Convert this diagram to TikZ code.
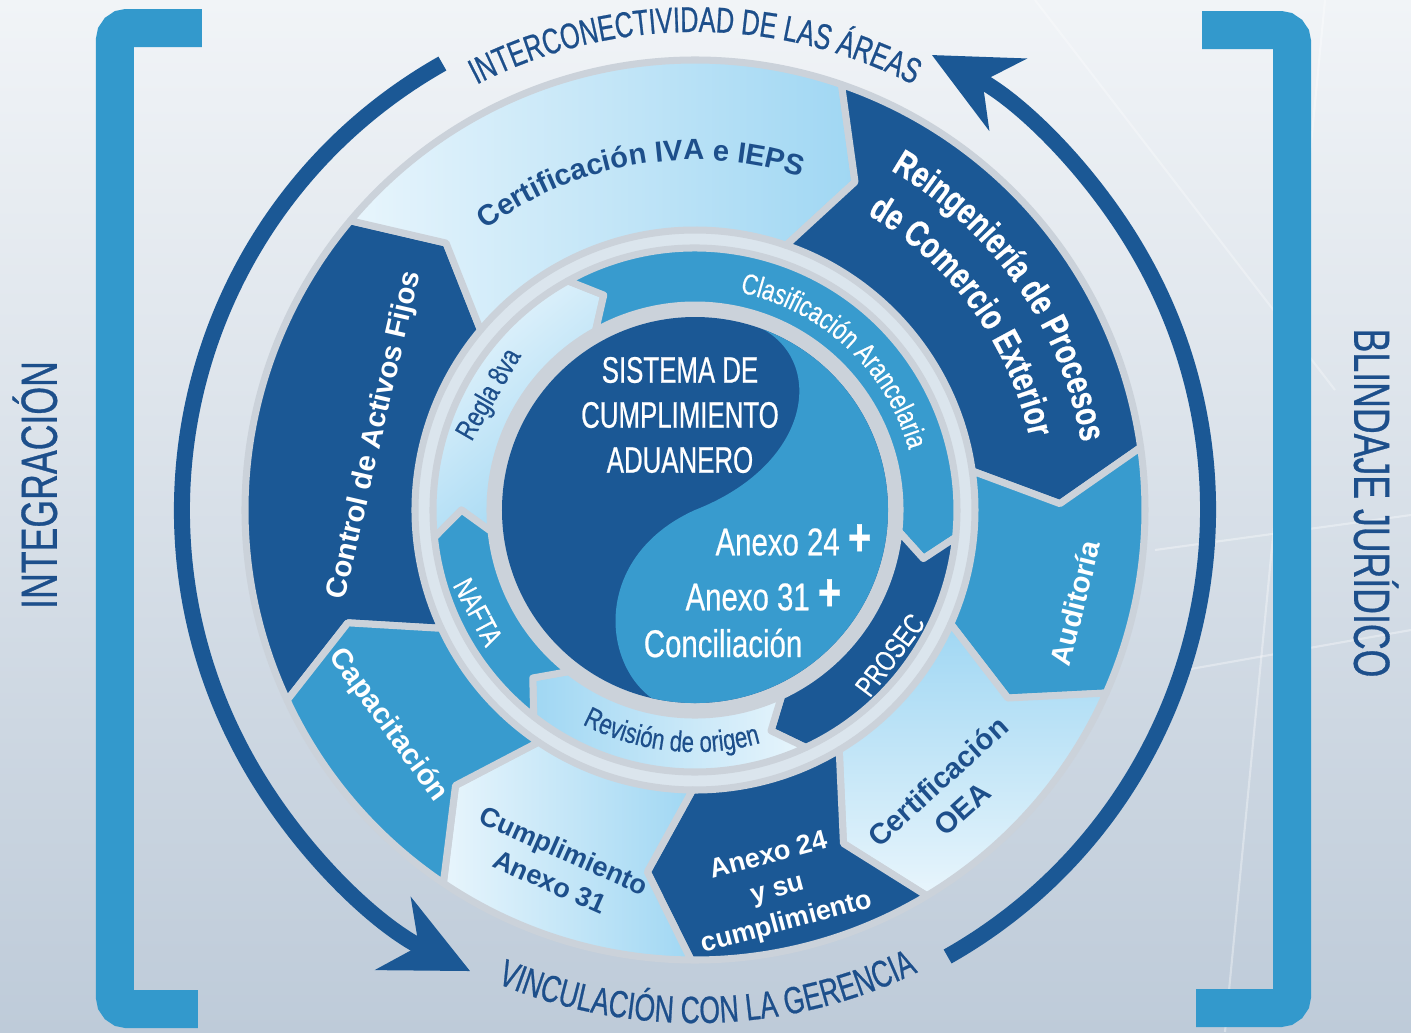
\documentclass[tikz,border=0pt]{standalone}
\usepackage{fontspec}
\setmainfont{Liberation Sans}
\newfontfamily\condfont[FakeStretch=0.76,FakeBold=0.5]{Liberation Sans}
\newfontfamily\capsfont[FakeStretch=0.70,FakeBold=0.6]{Liberation Sans}
\usetikzlibrary{arrows.meta,decorations.text}

\definecolor{DarkClr}{RGB}{27,88,149}
\definecolor{MidClr}{RGB}{56,155,206}
\definecolor{PaleClr}{RGB}{232,245,252}
\definecolor{SkyClr}{RGB}{160,215,243}
\definecolor{InkClr}{RGB}{29,79,139}
\definecolor{SilverClr}{RGB}{203,210,218}
\definecolor{BracketClr}{RGB}{51,153,204}
\definecolor{BgTopClr}{RGB}{241,244,247}
\definecolor{BgBotClr}{RGB}{190,203,217}

\newcommand{\topfont}{\capsfont\fontsize{10.2}{12}\selectfont}
\newcommand{\botfont}{\capsfont\fontsize{10.8}{12}\selectfont}
\newcommand{\sidefont}{\capsfont\fontsize{14.5}{16}\selectfont}
\newcommand{\segfont}{\bfseries\fontsize{8.3}{10.5}\selectfont}
\newcommand{\smallsegfont}{\bfseries\fontsize{7.7}{9.8}\selectfont}
\newcommand{\reinfont}{\condfont\bfseries\fontsize{10.5}{12}\selectfont}
\newcommand{\ringfont}{\condfont\fontsize{8.3}{10}\selectfont}
\newcommand{\corefont}{\capsfont\fontsize{10.5}{12.8}\selectfont}
\newcommand{\anxfont}{\condfont\fontsize{11}{13.5}\selectfont}

% one chevron piece of a ring: start angle, end angle, inner r, outer r, tip advance, style
\newcommand{\ringseg}[6]{%
  \path[#6] (#1:#4) arc[start angle=#1,end angle=#2,radius=#4]
    -- ({#2-#5}:{(#3+#4)/2}) -- (#2:#3)
    arc[start angle=#2,end angle=#1,radius=#3]
    -- ({#1-#5}:{(#3+#4)/2}) -- cycle;}

\begin{document}
\begin{tikzpicture}[
  segline/.style={draw=SilverClr,line width=2pt,line join=round},
  bigarc/.style={DarkClr,line width=0.16cm},
  bighead/.style={-{Stealth[length=0.85cm,width=0.8cm,inset=0.28cm]}},
  bracket/.style={BracketClr,line width=0.38cm,rounded corners=0.12cm},
  lbl/.style={white,align=center,inner sep=0pt}]
\useasboundingbox (-6.95,-5.22) rectangle (7.16,5.10);

% background
\shade[top color=BgTopClr,bottom color=BgBotClr] (-6.95,-5.22) rectangle (7.16,5.10);
\draw[white,opacity=0.35,line width=0.6pt] (6.30,5.10) -- (5.30,-5.22);
\draw[white,opacity=0.35,line width=0.6pt] (4.60,-0.40) -- (7.16,-0.05);
\draw[white,opacity=0.35,line width=0.6pt] (4.90,-1.60) -- (7.16,-1.20);
\draw[white,opacity=0.3,line width=0.6pt] (3.40,5.10) -- (6.40,1.20);

% brackets
\draw[bracket] (-4.93,4.82) -- (-5.80,4.82) -- (-5.80,-4.99) -- (-4.97,-4.99);
\draw[bracket] (5.07,4.80) -- (5.97,4.80) -- (5.97,-4.98) -- (5.01,-4.98);

% side titles
\node[InkClr,rotate=90] (integ) at (-6.60,0.25) {\sidefont INTEGRACIÓN};
\node[InkClr,rotate=-90] (blind) at (6.81,0.07) {\sidefont BLINDAJE JURÍDICO};

% big arrows
\draw[bigarc,bighead] (119.5:5.13) arc[start angle=119.5,end angle=244,radius=5.13];
\draw[bigarc,bighead] (-60.5:5.13) arc[start angle=-60.5,end angle=62.5,radius=5.13];

\path[decorate,decoration={text along path,text align=center,
  text={|\topfont\color{InkClr}|INTERCONECTIVIDAD DE LAS ÁREAS}}]
  (150:4.78) arc[start angle=150,end angle=30,radius=4.78];
\path[decorate,decoration={text along path,text align=center,
  text={|\botfont\color{InkClr}|VINCULACIÓN CON LA GERENCIA}}]
  (-148.5:5.13) arc[start angle=-148.5,end angle=-28.5,radius=5.13];

% outer ring
\fill[PaleClr!55!SilverClr] (0,0) circle (2.80);
\ringseg{205}{140}{2.80}{4.50}{7}{fill=DarkClr,segline}
\ringseg{140}{71}{2.80}{4.50}{7}{left color=PaleClr,right color=SkyClr,segline}
\ringseg{71}{8}{2.80}{4.50}{7}{fill=DarkClr,segline}
\ringseg{8}{-24}{2.80}{4.50}{7}{fill=MidClr,segline}
\ringseg{-24}{-59}{2.80}{4.50}{7}{top color=SkyClr,bottom color=PaleClr,segline}
\ringseg{-59}{-90.5}{2.80}{4.50}{7}{fill=DarkClr,segline}
\ringseg{-90.5}{-124}{2.80}{4.50}{7}{left color=PaleClr,right color=SkyClr,segline}
\ringseg{-124}{-155}{2.80}{4.50}{7}{fill=MidClr,segline}

\node[lbl,rotate=77,font=\segfont] (ctrl) at (-3.20,0.75) {Control de Activos Fijos};
\path[decorate,decoration={text along path,text align=center,
  text={|\segfont\color{InkClr}|Certificación IVA e IEPS}}]
  (159.5:3.50) arc[start angle=159.5,end angle=39.5,radius=3.50];
\path[decorate,decoration={text along path,text align=center,
  text={|\reinfont\color{white}|Reingeniería de Procesos}}]
  (95:3.92) arc[start angle=95,end angle=-25,radius=3.92];
\path[decorate,decoration={text along path,text align=center,
  text={|\reinfont\color{white}|de Comercio Exterior}}]
  (96:3.42) arc[start angle=96,end angle=-24,radius=3.42];
\node[lbl,rotate=76,font=\segfont] (audit) at (3.80,-0.93) {Auditoría};
\node[lbl,InkClr,rotate=42,font=\segfont] (oea) at (2.55,-2.85) {Certificación\\OEA};
\node[lbl,rotate=15,font=\smallsegfont] (anx24) at (0.83,-3.80) {Anexo 24\\y su\\cumplimiento};
\node[lbl,InkClr,rotate=-24,font=\smallsegfont] (anx31) at (-1.38,-3.56) {Cumplimiento\\Anexo 31};
\node[lbl,rotate=-54,font=\segfont] (capac) at (-3.07,-2.15) {Capacitación};

% middle ring
\ringseg{186}{119}{2.05}{2.62}{6}{left color=PaleClr,right color=SkyClr,shading angle=40,segline}
\ringseg{119}{-6}{2.05}{2.62}{6}{fill=MidClr,segline}
\ringseg{-6}{-65}{2.05}{2.62}{6}{fill=DarkClr,segline}
\ringseg{-65}{-128}{2.05}{2.62}{6}{left color=SkyClr,right color=PaleClr,segline}
\ringseg{-128}{-174}{2.05}{2.62}{6}{fill=MidClr,segline}

\node[lbl,InkClr,rotate=60,font=\ringfont] (regla) at (-2.05,1.15) {Regla 8va};
\path[decorate,decoration={text along path,text align=center,
  text={|\ringfont\color{white}|Clasificación Arancelaria}}]
  (107:2.22) arc[start angle=107,end angle=-13,radius=2.22];
\node[lbl,rotate=53,font=\ringfont] (prosec) at (1.95,-1.45) {PROSEC};
\path[decorate,decoration={text along path,text align=center,
  text={|\ringfont\color{InkClr}|Revisión de origen}}]
  (-156:2.42) arc[start angle=-156,end angle=-36,radius=2.42];
\node[lbl,rotate=-62,font=\ringfont] (nafta) at (-2.17,-1.02) {NAFTA};

% core
\fill[SilverClr] (0,0) circle (2.05);
\fill[DarkClr] (0,0) circle (1.93);
\fill[MidClr] (69:1.93) .. controls (1.30,1.45) and (1.15,0.45) .. (0,0)
  .. controls (-1.00,-0.45) and (-0.95,-1.50) .. (-103:1.93)
  arc[start angle=-103,end angle=69,radius=1.93] -- cycle;

\node[lbl,font=\corefont] (core) at (-0.15,0.95) {SISTEMA DE\\CUMPLIMIENTO\\ADUANERO};
\node[lbl,anchor=east,font=\anxfont] (core24) at (1.77,-0.30)
  {Anexo 24 {\bfseries\fontsize{15}{15}\selectfont +}};
\node[lbl,anchor=east,font=\anxfont] (core31) at (1.47,-0.85)
  {Anexo 31 {\bfseries\fontsize{15}{15}\selectfont +}};
\node[lbl,anchor=east,font=\anxfont] (conc) at (1.08,-1.33) {Conciliación};

\end{tikzpicture}
\end{document}
